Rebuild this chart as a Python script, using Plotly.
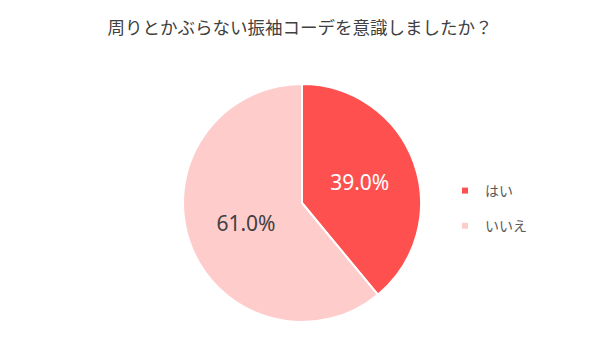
import plotly.graph_objects as go

title = "周りとかぶらない振袖コーデを意識しましたか？"
labels = ["はい", "いいえ"]
values = [39.0, 61.0]
colors = ["#FF5050", "#FFCCCC"]
text_colors = ["#FFFFFF", "#404040"]

fig = go.Figure()
fig.add_trace(go.Pie(
    labels=labels,
    values=values,
    sort=False,
    direction="clockwise",
    rotation=0,
    marker=dict(colors=colors, line=dict(color="#FFFFFF", width=2)),
    texttemplate="%{percent:.1%}",
    textposition="inside",
    insidetextorientation="horizontal",
    textfont=dict(size=21, color=text_colors, family="Noto Sans, Liberation Sans, sans-serif"),
    domain=dict(x=[183/600, 421/600], y=[38/360, 276/360]),
    hoverinfo="label+percent",
    showlegend=False,
))

# legend entries (square markers, spaced like the reference)
for i, (lab, col) in enumerate(zip(labels, colors)):
    fig.add_trace(go.Scatter(
        x=[None], y=[None], mode="markers", name=lab,
        marker=dict(symbol="square", size=6, color=col),
        legendgroup=f"g{i}", showlegend=True, hoverinfo="skip",
    ))

fig.update_layout(
    width=600, height=360,
    margin=dict(l=0, r=0, t=0, b=0),
    paper_bgcolor="#FFFFFF",
    plot_bgcolor="#FFFFFF",
    xaxis=dict(visible=False),
    yaxis=dict(visible=False),
    title=dict(text=title, x=0.5, xanchor="center", y=1 - 28/360, yanchor="middle",
               font=dict(size=17.5, color="#404040", family="Noto Sans CJK JP, sans-serif")),
    legend=dict(x=445/600, y=1 - 175/360, xanchor="left", yanchor="top",
                font=dict(size=14, color="#595959", family="Noto Sans CJK JP, sans-serif"),
                tracegroupgap=14, itemwidth=30, itemsizing="trace"),
    showlegend=True,
)

fig.write_html("out.html")
